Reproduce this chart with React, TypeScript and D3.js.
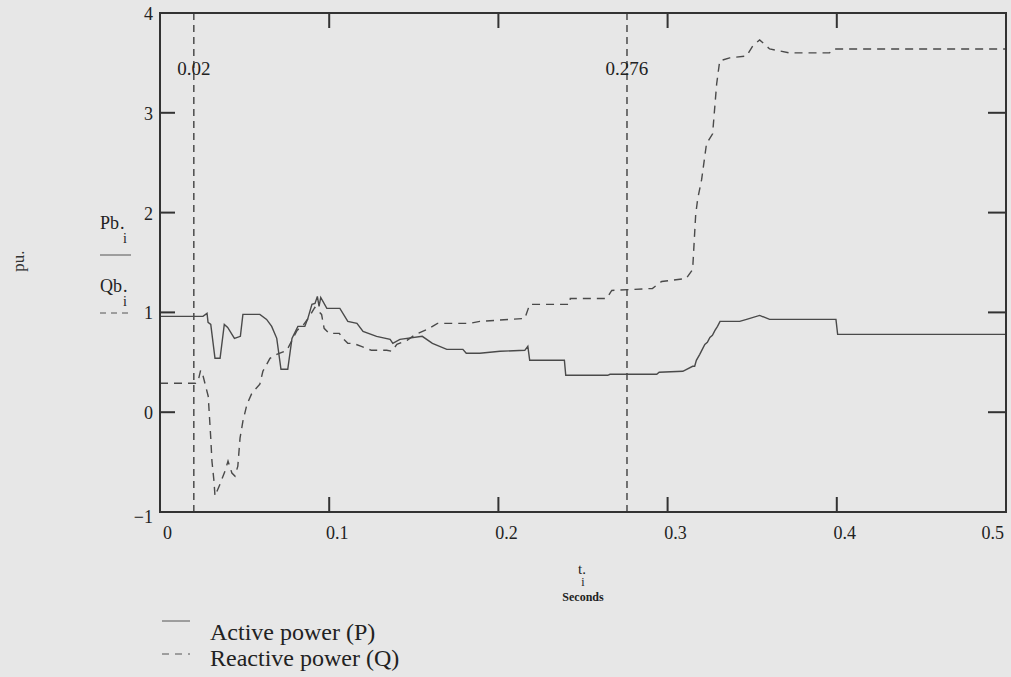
import React, { useEffect, useRef } from "react";
import * as d3 from "d3";

// time samples and active power P (pu)
const pTime = [
  0, 0.0254, 0.0278, 0.0284, 0.030, 0.0325, 0.0355, 0.038, 0.040, 0.044, 0.0475, 0.049,
  0.059, 0.063, 0.066, 0.069, 0.0715, 0.0755, 0.078, 0.0815, 0.0856, 0.0874, 0.0898,
  0.0916, 0.093, 0.094, 0.095, 0.0986, 0.1063, 0.111, 0.1164, 0.12, 0.128, 0.136, 0.1376,
  0.1418, 0.155, 0.161, 0.1695, 0.179, 0.181, 0.189, 0.201, 0.2156, 0.2174, 0.2185, 0.239,
  0.2398, 0.2646, 0.266, 0.2936, 0.295, 0.309, 0.3148, 0.316, 0.317, 0.319, 0.3205, 0.322,
  0.3235, 0.325, 0.3265, 0.328, 0.3295, 0.331, 0.3426, 0.3467, 0.3544, 0.3603, 0.3995,
  0.4005, 0.5,
];
const pValue = [
  0.96, 0.96, 0.99, 0.9, 0.88, 0.54, 0.54, 0.88, 0.85, 0.74, 0.76, 0.98,
  0.98, 0.93, 0.86, 0.74, 0.43, 0.43, 0.74, 0.86, 0.86, 0.94, 1.08,
  1.09, 1.16, 1.06, 1.15, 1.04, 1.04, 0.91, 0.89, 0.81, 0.76, 0.73, 0.69,
  0.73, 0.76, 0.69, 0.63, 0.63, 0.59, 0.59, 0.61, 0.62, 0.66, 0.52, 0.52,
  0.37, 0.37, 0.38, 0.38, 0.4, 0.41, 0.46, 0.46, 0.52, 0.58, 0.63, 0.68,
  0.7, 0.75, 0.77, 0.82, 0.86, 0.91, 0.91, 0.93, 0.97, 0.93, 0.93,
  0.78, 0.78,
];

// time samples and reactive power Q (pu)
const qTime = [
  0, 0.021, 0.0225, 0.024, 0.0255, 0.0285, 0.030, 0.0307, 0.0319, 0.0325, 0.0355, 0.0384,
  0.0402, 0.0425, 0.0443, 0.046, 0.0473, 0.049, 0.0514, 0.0543, 0.059, 0.0608, 0.065,
  0.067, 0.069, 0.072, 0.075, 0.078, 0.081, 0.085, 0.088, 0.0915, 0.0955, 0.097, 0.1,
  0.106, 0.108, 0.111, 0.114, 0.119, 0.125, 0.134, 0.137, 0.14, 0.146, 0.151, 0.158,
  0.164, 0.183, 0.189, 0.2156, 0.2185, 0.242, 0.2425, 0.264, 0.267, 0.291, 0.2965, 0.311,
  0.3148, 0.3166, 0.3178, 0.3201, 0.323, 0.3266, 0.329, 0.3308, 0.3367, 0.3467, 0.3503,
  0.3544, 0.3603, 0.372, 0.3957, 0.3987, 0.5,
];
const qValue = [
  0.29, 0.29, 0.31, 0.42, 0.36, 0.16, -0.26, -0.49, -0.69, -0.84, -0.72, -0.59,
  -0.49, -0.61, -0.64, -0.54, -0.26, -0.09, 0.08, 0.19, 0.28, 0.41, 0.54,
  0.56, 0.58, 0.6, 0.62, 0.72, 0.82, 0.88, 0.95, 1.05, 0.98, 0.84, 0.79,
  0.79, 0.74, 0.69, 0.69, 0.66, 0.62, 0.62, 0.61, 0.68, 0.72, 0.78, 0.83,
  0.89, 0.89, 0.91, 0.94, 1.08, 1.08, 1.14, 1.14, 1.22, 1.24, 1.31, 1.34,
  1.43, 1.98, 2.14, 2.33, 2.69, 2.79, 3.29, 3.52, 3.55, 3.57, 3.67,
  3.73, 3.64, 3.6, 3.6, 3.64, 3.64,
];

const xTicks = [0, 0.1, 0.2, 0.3, 0.4, 0.5];
const yTicks = [-1, 0, 1, 2, 3, 4];
const markers = [0.02, 0.276];
const markerLabels = ["0.02", "0.276"];
const legendLabels = ["Active power (P)", "Reactive power (Q)"];

const W = 1011;
const H = 677;
const FONT = "'Liberation Serif', 'Times New Roman', serif";
const INK = "#333";
const LINE = "#4a4a4a";

export default function App() {
  const ref = useRef<SVGSVGElement | null>(null);

  useEffect(() => {
    const svg = d3.select(ref.current);
    svg.selectAll("*").remove();

    const left = 160, right = 1006, top = 13, bottom = 512;
    const x = d3.scaleLinear().domain([0, 0.5]).range([left, right]);
    const y = d3.scaleLinear().domain([-1, 4]).range([bottom, top]);

    svg.append("rect").attr("width", W).attr("height", H).attr("fill", "#e7e7e7");

    const g = svg.append("g");

    // ticks (inside the frame on all four sides)
    const tl = 15;
    xTicks.slice(1, -1).forEach((t) => {
      g.append("line").attr("x1", x(t)).attr("x2", x(t)).attr("y1", bottom).attr("y2", bottom - tl)
        .attr("stroke", INK).attr("stroke-width", 2);
      g.append("line").attr("x1", x(t)).attr("x2", x(t)).attr("y1", top).attr("y2", top + tl)
        .attr("stroke", INK).attr("stroke-width", 2);
    });
    yTicks.slice(1, -1).forEach((v) => {
      g.append("line").attr("x1", left).attr("x2", left + tl).attr("y1", y(v)).attr("y2", y(v))
        .attr("stroke", INK).attr("stroke-width", 2);
      g.append("line").attr("x1", right).attr("x2", right - tl - 3).attr("y1", y(v)).attr("y2", y(v))
        .attr("stroke", INK).attr("stroke-width", 2);
    });

    // x tick labels
    xTicks.forEach((t, i) => {
      const last = i === xTicks.length - 1;
      g.append("text")
        .attr("x", i === 0 ? x(t) + 3 : last ? x(t) - 2 : x(t) + 8)
        .attr("y", 539)
        .attr("text-anchor", i === 0 ? "start" : last ? "end" : "middle")
        .style("font-family", FONT).style("font-size", "18px").attr("fill", "#222")
        .text(String(t));
    });
    // y tick labels
    yTicks.forEach((v) => {
      g.append("text")
        .attr("x", 153)
        .attr("y", y(v) + (v === -1 ? 11 : 7))
        .attr("text-anchor", "end")
        .style("font-family", FONT).style("font-size", "18px").attr("fill", "#222")
        .text(v < 0 ? "\u2212" + Math.abs(v) : String(v));
    });

    // marker lines
    markers.forEach((m, i) => {
      g.append("line").attr("x1", x(m)).attr("x2", x(m)).attr("y1", top).attr("y2", bottom)
        .attr("stroke", INK).attr("stroke-width", 1.3).attr("stroke-dasharray", "7,5");
      g.append("text").attr("x", x(m)).attr("y", 75).attr("text-anchor", "middle")
        .style("font-family", FONT).style("font-size", "19px").attr("fill", "#222")
        .text(markerLabels[i]);
    });

    const line = d3.line<[number, number]>().x((d) => x(d[0])).y((d) => y(d[1]));
    const pData = pTime.map((t, i) => [t, pValue[i]] as [number, number]);
    const qData = qTime.map((t, i) => [t, qValue[i]] as [number, number]);

    g.append("path").attr("d", line(pData)).attr("fill", "none")
      .attr("stroke", LINE).attr("stroke-width", 1.4);
    g.append("path").attr("d", line(qData)).attr("fill", "none")
      .attr("stroke", LINE).attr("stroke-width", 1.4).attr("stroke-dasharray", "8,6");

    // frame
    g.append("rect").attr("x", left).attr("y", top).attr("width", right - left).attr("height", bottom - top)
      .attr("fill", "none").attr("stroke", INK).attr("stroke-width", 2);

    // y-axis title
    g.append("text").attr("transform", "translate(24,261) rotate(-90)").attr("text-anchor", "middle")
      .style("font-family", FONT).style("font-size", "17px").attr("fill", "#333").text("pu.");

    // Pb_i / Qb_i
    const sub = (tx: number, ty: number, main: string) => {
      const t = g.append("text").attr("x", tx).attr("y", ty)
        .style("font-family", FONT).style("font-size", "18px").attr("fill", "#222");
      t.append("tspan").text(main);
      t.append("tspan").attr("dx", 1).text(".");
      t.append("tspan").attr("x", tx + 23).attr("dy", 14).style("font-size", "14px").text("i");
    };
    sub(100, 229, "Pb");
    g.append("line").attr("x1", 100).attr("x2", 131).attr("y1", 255).attr("y2", 255)
      .attr("stroke", "#555").attr("stroke-width", 1);
    sub(100, 292, "Qb");
    g.append("line").attr("x1", 100).attr("x2", 131).attr("y1", 313).attr("y2", 313)
      .attr("stroke", "#555").attr("stroke-width", 1).attr("stroke-dasharray", "6,5");

    // x-axis title
    g.append("text").attr("x", 582).attr("y", 574).attr("text-anchor", "middle")
      .style("font-family", FONT).style("font-size", "15px").attr("fill", "#222").text("t.");
    g.append("text").attr("x", 583).attr("y", 586).attr("text-anchor", "middle")
      .style("font-family", FONT).style("font-size", "12px").attr("fill", "#222").text("i");
    g.append("text").attr("x", 583).attr("y", 601).attr("text-anchor", "middle")
      .style("font-family", FONT).style("font-size", "12px").style("font-weight", "bold")
      .attr("fill", "#222").text("Seconds");

    // legend
    legendLabels.forEach((lab, i) => {
      const ly = 621 + i * 33;
      g.append("line").attr("x1", 162).attr("x2", 190).attr("y1", ly).attr("y2", ly)
        .attr("stroke", "#555").attr("stroke-width", 1)
        .attr("stroke-dasharray", i === 1 ? "7,6" : null);
      g.append("text").attr("x", 210).attr("y", i === 0 ? 640 : 666)
        .style("font-family", FONT).style("font-size", "24px").attr("fill", "#222").text(lab);
    });
  }, []);

  return (
    <svg ref={ref} width={W} height={H}
      style={{ position: "absolute", left: 0, top: 0, display: "block" }} />
  );
}
